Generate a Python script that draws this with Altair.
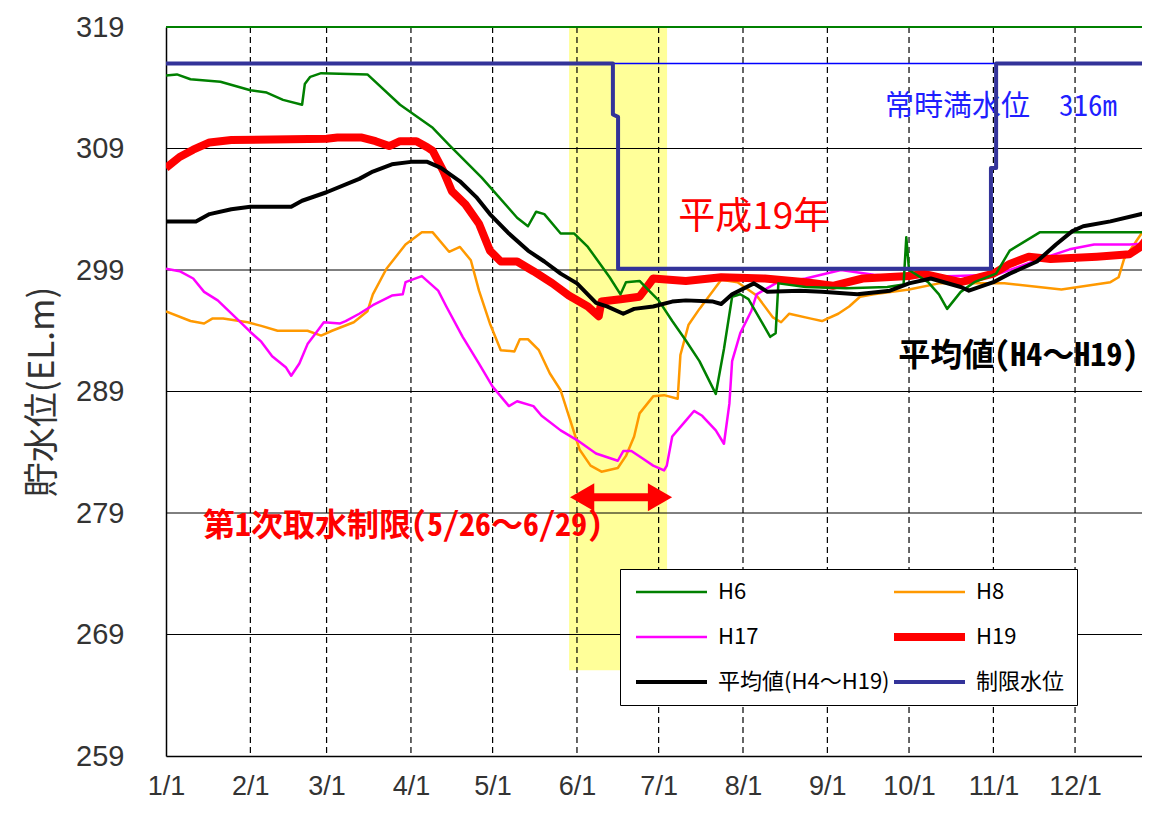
import altair as alt
import pandas as pd

# ---------------- data ----------------
MONTH_DAYS = [0, 31, 59, 90, 120, 151, 181, 212, 243, 273, 304, 334]
MONTH_LABELS = ["1/1", "2/1", "3/1", "4/1", "5/1", "6/1", "7/1", "8/1", "9/1", "10/1", "11/1", "12/1"]
Y_TICKS = [259, 269, 279, 289, 299, 309, 319]

SERIES = ["H6", "H8", "H17", "H19", "平均値(H4～H19)", "制限水位"]
COLORS = ["#008000", "#FF9900", "#FF00FF", "#FF0000", "#000000", "#333399"]
WIDTHS = [2.5, 2.5, 2.5, 8, 4, 4]
DRAW_ORDER = ["H8", "H17", "H19", "H6", "平均値(H4～H19)", "制限水位"]

h6_day = [0, 4, 9, 20, 31, 37, 43, 50, 51, 53, 57, 74, 86, 98, 104, 116, 129, 133, 136, 139,
          145, 150, 155, 163, 167, 169, 174, 177, 181, 186, 191, 196, 202, 205, 208, 211, 214, 222, 224, 225,
          235, 250, 265, 271, 272, 273, 280, 284, 287, 292, 297, 305, 310, 321, 362]
h6_lv = [315.0, 315.1, 314.7, 314.5, 313.8, 313.6, 313.0, 312.6, 314.3, 314.9, 315.2, 315.1, 312.6, 310.7, 309.3,
         306.6, 303.3, 302.6, 303.8, 303.6, 302.0, 302.0, 300.9, 298.4, 297.0, 298.0, 298.1, 297.4, 296.5, 294.8,
         293.2, 291.5, 288.8, 292.5, 296.8, 297.0, 296.6, 293.5, 293.8, 297.9, 297.6, 297.5, 297.6, 297.8, 301.7,
         299.0, 298.0, 297.0, 295.8, 297.2, 298.0, 298.7, 300.6, 302.1, 302.1]

h8_day = [0, 9, 14, 17, 21, 30, 35, 41, 52, 57, 61, 69, 74, 76, 81, 88, 94, 98, 104, 108,
          112, 115, 119, 123, 128, 130, 133, 137, 141, 145, 148, 152, 156, 160, 166, 169, 172, 174, 179, 183,
          188, 189, 192, 196, 201, 204, 210, 217, 223, 226, 229, 237, 241, 247, 251, 255, 260, 273, 284, 308,
          329, 347, 350, 352, 359, 362]
h8_lv = [295.6, 294.8, 294.6, 295.0, 295.0, 294.7, 294.4, 294.0, 294.0, 293.6, 294.0, 294.7, 295.6, 297.0, 299.1,
         301.1, 302.1, 302.1, 300.5, 300.9, 299.8, 297.3, 294.6, 292.4, 292.3, 293.3, 293.3, 292.4, 290.5, 289.1,
         287.0, 284.2, 282.9, 282.4, 282.7, 283.7, 285.3, 287.2, 288.6, 288.7, 288.4, 292.0, 294.5, 295.8, 297.3,
         298.2, 298.0, 296.9, 295.1, 294.7, 295.4, 295.0, 294.8, 295.4, 296.0, 296.8, 297.0, 297.4, 297.9, 297.9,
         297.4, 298.0, 298.4, 299.9, 302.2, 303.0]

h17_day = [0, 5, 10, 14, 19, 26, 31, 35, 39, 44, 46, 49, 52, 55, 58, 64, 66, 71, 76, 83,
           87, 88, 94, 100, 103, 109, 115, 120, 126, 129, 135, 138, 145, 151, 158, 166, 168, 171, 175, 179,
           183, 184, 186, 191, 194, 197, 202, 205, 207, 208, 211, 215, 217, 224, 235, 248, 260, 273, 290, 305,
           320, 332, 341, 354, 362]
h17_lv = [299.1, 298.9, 298.3, 297.2, 296.5, 295.0, 293.9, 293.1, 291.9, 291.0, 290.3, 291.3, 292.9, 293.8, 294.7,
          294.6, 294.8, 295.4, 296.1, 296.9, 297.0, 298.0, 298.5, 297.3, 296.0, 293.5, 291.3, 289.4, 287.8, 288.2,
          287.8, 287.0, 285.8, 285.0, 283.9, 283.3, 284.1, 284.1, 283.5, 282.9, 282.5, 282.9, 285.3, 286.6, 287.4,
          287.0, 285.8, 284.7, 288.0, 291.5, 293.8, 295.6, 297.0, 297.9, 298.3, 299.0, 298.6, 298.4, 298.5, 298.6,
          299.8, 300.7, 301.1, 301.1, 301.2]

h19_day = [0, 5, 10, 16, 24, 59, 63, 72, 77, 82, 86, 92, 96, 98, 102, 105, 110, 115, 119, 123,
           129, 135, 142, 148, 155, 159, 160, 167, 174, 177, 179, 191, 204, 220, 235, 245, 256, 273, 278, 292,
           304, 310, 317, 325, 342, 354, 358, 362]
h19_lv = [307.4, 308.3, 308.9, 309.5, 309.7, 309.8, 309.9, 309.9, 309.6, 309.2, 309.6, 309.6, 309.1, 308.8, 307.1,
          305.5, 304.4, 302.8, 300.6, 299.7, 299.7, 298.9, 297.9, 296.9, 296.0, 295.2, 296.4, 296.6, 296.8, 297.7,
          298.3, 298.1, 298.4, 298.3, 298.0, 297.7, 298.3, 298.5, 298.7, 298.0, 298.7, 299.5, 300.1, 299.9, 300.1,
          300.3, 300.9, 302.0]

avg_day = [0, 11, 16, 24, 31, 46, 50, 59, 71, 76, 83, 90, 96, 101, 108, 114, 119, 126, 133, 139,
           145, 151, 158, 162, 168, 172, 179, 186, 191, 201, 204, 208, 216, 221, 233, 241, 254, 266, 273, 281,
           292, 295, 304, 310, 320, 327, 333, 337, 347, 362]
avg_lv = [303.0, 303.0, 303.6, 304.0, 304.2, 304.2, 304.7, 305.4, 306.5, 307.1, 307.7, 307.9, 307.9, 307.4, 306.3,
          305.0, 303.6, 302.0, 300.6, 299.7, 298.7, 297.9, 296.3, 296.0, 295.4, 295.8, 296.0, 296.4, 296.5, 296.4,
          296.2, 297.0, 297.9, 297.2, 297.3, 297.2, 297.0, 297.3, 297.9, 298.3, 297.6, 297.3, 298.0, 298.7, 299.7,
          301.1, 302.2, 302.6, 303.0, 303.8]

lim_day = [0, 164.2, 164.2, 166.1, 166.1, 303.1, 303.1, 305.0, 305.0, 362]
lim_lv = [316, 316, 311.8, 311.6, 299.1, 299.1, 307.4, 307.4, 316, 316]

FULL_LEVEL = 316          # 常時満水位
TOP_LEVEL = 319
BAND_DAYS = [148.1, 184.1]     # yellow band (first intake restriction)
BAND_LEVELS = [266.05, 319]
ARROW_DAYS = [152.9, 181.5]
ARROW_LEVEL = 280.3

# ---------------- build table ----------------
series_data = {
    "H6": (h6_day, h6_lv), "H8": (h8_day, h8_lv), "H17": (h17_day, h17_lv),
    "H19": (h19_day, h19_lv), "平均値(H4～H19)": (avg_day, avg_lv), "制限水位": (lim_day, lim_lv),
}
rows = []
for name in DRAW_ORDER:
    d, v = series_data[name]
    assert len(d) == len(v), name
    for i, (a, b) in enumerate(zip(d, v)):
        rows.append({"series": name, "day": a, "level": b, "idx": i})
df = pd.DataFrame(rows)

XMAX = 358.6
xscale = alt.Scale(domain=[0, XMAX], nice=False, zero=False)
yscale = alt.Scale(domain=[259, 319], nice=False, zero=False)

label_expr = "[" + ",".join("'%s'" % s for s in MONTH_LABELS) + "][indexof([" + \
    ",".join(str(d) for d in MONTH_DAYS) + "], datum.value)]"

xaxis = alt.Axis(values=MONTH_DAYS, labelExpr=label_expr, grid=False, ticks=False,
                 domainColor="black", domainWidth=1.5, labelFontSize=27, labelFont="Liberation Sans",
                 labelColor="#333333", labelPadding=17, labelFlush=False, labelOverlap=False, title=None)
yaxis = alt.Axis(values=Y_TICKS, format="d", grid=False, ticks=False, domainColor="black", domainWidth=1.5,
                 labelFontSize=29, labelFont="Liberation Sans", labelColor="#333333", labelPadding=42,
                 title="貯水位(EL.m)", titleFont="Noto Sans CJK JP", titleFontSize=35,
                 titleFontWeight="normal", titleColor="#333333", titlePadding=15)

X = alt.X("day:Q", scale=xscale, axis=xaxis)
Y = alt.Y("level:Q", scale=yscale, axis=yaxis)

band = alt.Chart(pd.DataFrame({"day": [BAND_DAYS[0]], "day2": [BAND_DAYS[1]],
                               "level": [BAND_LEVELS[0]], "level2": [BAND_LEVELS[1]]})).mark_rect(
    color="#FFFF99").encode(x=X, x2="day2:Q", y=Y, y2="level2:Q")

hgrid = alt.Chart(pd.DataFrame({"level": Y_TICKS[1:-1]})).mark_rule(
    color="black", strokeWidth=1).encode(y=Y)
vgrid = alt.Chart(pd.DataFrame({"day": MONTH_DAYS[1:]})).mark_rule(
    color="black", strokeWidth=1.2, strokeDash=[6, 4]).encode(x=X)
topline = alt.Chart(pd.DataFrame({"level": [TOP_LEVEL]})).mark_rule(
    color="#008000", strokeWidth=2).encode(y=Y)
fullline = alt.Chart(pd.DataFrame({"level": [FULL_LEVEL]})).mark_rule(
    color="#0000FF", strokeWidth=1.5).encode(y=Y)

MONO = "Noto Sans Mono CJK JP, Noto Sans CJK JP, sans-serif"
texts = pd.DataFrame({
    "day": [216.1, 264.2, 269.0, 13.6],
    "level": [303.3, 312.4, 291.95, 277.9],
    "label": ["平成19年", "常時満水位　316m", "平均値(H4～H19)", "第1次取水制限(5/26～6/29)"],
})
t_year = alt.Chart(texts.iloc[[0]]).mark_text(
    font="Noto Sans CJK JP", fontSize=37, color="#FF0000", align="center", baseline="middle"
).encode(x=X, y=Y, text="label:N")
t_full = alt.Chart(texts.iloc[[1]]).mark_text(
    font=MONO, fontSize=29, color="#1F1FFF", align="left", baseline="middle"
).encode(x=X, y=Y, text="label:N")
t_avg = alt.Chart(texts.iloc[[2]]).mark_text(
    font=MONO, fontSize=32, fontWeight="bold", color="#000000", align="left", baseline="middle"
).encode(x=X, y=Y, text="label:N")
t_lim = alt.Chart(texts.iloc[[3]]).mark_text(
    font=MONO, fontSize=32, fontWeight="bold", color="#FF0000", align="left", baseline="middle"
).encode(x=X, y=Y, text="label:N")

arrow_df = pd.DataFrame({"day": [ARROW_DAYS[0]], "day2": [ARROW_DAYS[1]], "level": [ARROW_LEVEL]})
shaft = alt.Chart(arrow_df).mark_rule(color="#FF0000", strokeWidth=8).encode(x=X, x2="day2:Q", y=Y)
heads = alt.Chart(pd.DataFrame({"day": ARROW_DAYS, "level": [ARROW_LEVEL] * 2,
                                "shape": ["triangle-left", "triangle-right"]})).mark_point(
    filled=True, color="#FF0000", size=784, opacity=1, strokeWidth=0
).encode(x=X, y=Y, shape=alt.Shape("shape:N", scale=None, legend=None))

lines = alt.Chart(df).mark_line(clip=True, strokeJoin="round").encode(
    x=X, y=Y, order="idx:Q",
    color=alt.Color("series:N", scale=alt.Scale(domain=SERIES, range=COLORS), title=None,
                    legend=alt.Legend(orient="none", legendX=454, legendY=542, columns=2,
                                      direction="horizontal", gridAlign="all",
                                      columnPadding=0, rowPadding=23, padding=12,
                                      fillColor="white", strokeColor="black",
                                      symbolType="stroke", symbolSize=5041, clipHeight=22,
                                      labelFontSize=22, labelFont="Noto Sans CJK JP", labelColor="black",
                                      labelOffset=7, labelLimit=400, symbolOffset=0)),
    strokeWidth=alt.StrokeWidth("series:N", scale=alt.Scale(type="ordinal", domain=SERIES, range=WIDTHS),
                                title=None),
)

chart = alt.layer(
    band, hgrid, vgrid, topline, t_full, t_year, t_avg, t_lim, fullline, shaft, heads, lines
).properties(
    width=976, height=729,
    padding={"left": 158, "top": 19, "right": 0, "bottom": 46},
    autosize=alt.AutoSizeParams(type="none"),
).configure_view(stroke=None).configure_legend(strokeWidth=2).configure(background="white")

chart.save("out.html", embed_options={"renderer": "svg", "actions": False})
